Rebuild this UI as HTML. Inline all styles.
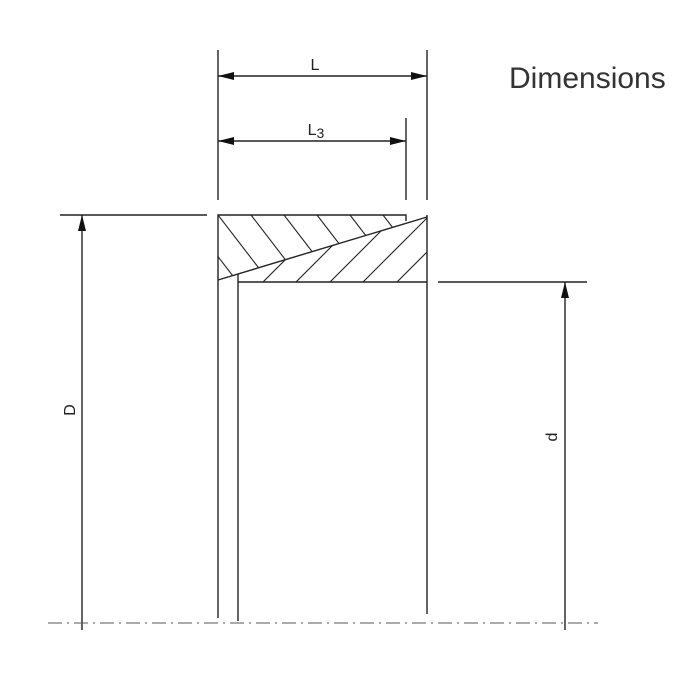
<!DOCTYPE html>
<html><head><style>body{margin:0;background:#fff}</style></head><body>
<svg width="680" height="680" viewBox="0 0 680 680" xmlns="http://www.w3.org/2000/svg" font-family="Liberation Sans, sans-serif">
<defs>
<marker id="a" viewBox="0 0 16 8" refX="16" refY="4" markerWidth="16" markerHeight="8" orient="auto-start-reverse" markerUnits="userSpaceOnUse"><path d="M0,0L16,4L0,8z" fill="#111"/></marker>
<clipPath id="up"><polygon points="218,215 406,215 406,221 427,217 218,280"/></clipPath>
<clipPath id="lo"><polygon points="427,217 427,282 238,282 238,274"/></clipPath>
</defs>
<g stroke="#222" stroke-width="1.4" fill="none">
<line x1="218" y1="50" x2="218" y2="200"/>
<line x1="427" y1="50" x2="427" y2="200"/>
<line x1="406" y1="118" x2="406" y2="200"/>
<line x1="218" y1="76" x2="427" y2="76" marker-start="url(#a)" marker-end="url(#a)"/>
<line x1="218" y1="141" x2="406" y2="141" marker-start="url(#a)" marker-end="url(#a)"/>
<line x1="60" y1="215" x2="207" y2="215"/>
<line x1="82" y1="215" x2="82" y2="630" marker-start="url(#a)"/>
<line x1="438" y1="282" x2="587" y2="282"/>
<line x1="565" y1="282" x2="565" y2="630" marker-start="url(#a)"/>
<polyline points="218,618 218,215 406,215 406,221"/>
<line x1="427" y1="215" x2="427" y2="614"/>
<line x1="427" y1="217" x2="218" y2="280"/>
<line x1="238" y1="282" x2="427" y2="282"/>
<line x1="238" y1="274" x2="238" y2="621"/>
<g clip-path="url(#up)" stroke-width="1.1">
<line x1="186" y1="215" x2="236" y2="280"/>
<line x1="218" y1="215" x2="268" y2="280"/>
<line x1="251" y1="215" x2="301" y2="280"/>
<line x1="284" y1="215" x2="334" y2="280"/>
<line x1="317" y1="215" x2="367" y2="280"/>
<line x1="350" y1="215" x2="400" y2="280"/>
<line x1="383" y1="215" x2="433" y2="280"/>
</g>
<g clip-path="url(#lo)" stroke-width="1.1">
<line x1="263" y1="282" x2="330" y2="215"/>
<line x1="296" y1="282" x2="363" y2="215"/>
<line x1="330" y1="282" x2="397" y2="215"/>
<line x1="363" y1="282" x2="430" y2="215"/>
<line x1="397" y1="282" x2="464" y2="215"/>
</g>
<line x1="48" y1="623" x2="598" y2="623" stroke-width="1" stroke="#555" stroke-dasharray="14,5,2,5"/>
</g>
<text x="315" y="70" font-size="16" text-anchor="middle" fill="#222">L</text>
<text x="316" y="135" font-size="16" text-anchor="middle" fill="#222">L<tspan font-size="14" dy="3">3</tspan></text>
<text transform="translate(75,410) rotate(-90)" font-size="16" text-anchor="middle" fill="#222">D</text>
<text transform="translate(557,437) rotate(-90)" font-size="16" text-anchor="middle" fill="#222">d</text>
<text x="509" y="88" font-size="30" fill="#333">Dimensions</text>
</svg>
</body></html>
